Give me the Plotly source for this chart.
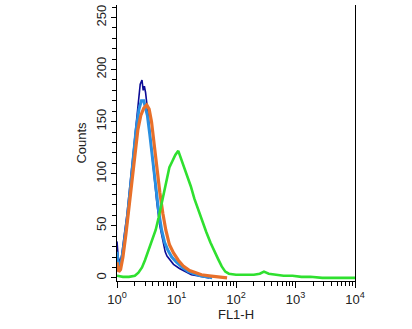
import plotly.graph_objects as go

# FL1-H fluorescence histograms (log10 of channel value, event counts)
navy_log = [0.00, 0.02, 0.05, 0.08, 0.12, 0.17, 0.22, 0.27, 0.32, 0.36, 0.39, 0.42, 0.44, 0.46, 0.48,
            0.52, 0.57, 0.62, 0.67, 0.72, 0.77, 0.81, 0.84, 0.90, 0.95, 1.05, 1.15, 1.25, 1.35, 1.45, 1.55]
navy_cnt = [35, 20, 15, 22, 40, 62, 90, 120, 150, 172, 186, 190, 180, 184, 178,
            158, 128, 98, 72, 50, 34, 25, 21, 16, 13, 9, 6, 3, 2, 1, 0]

sky_log = [0.00, 0.02, 0.05, 0.08, 0.12, 0.17, 0.22, 0.27, 0.32, 0.37, 0.41, 0.45, 0.48, 0.51,
           0.55, 0.60, 0.65, 0.70, 0.75, 0.80, 0.86, 0.92, 1.00, 1.10, 1.20, 1.30, 1.40, 1.50, 1.60]
sky_cnt = [25, 14, 10, 18, 34, 56, 84, 114, 142, 162, 170, 170, 164, 156,
           138, 112, 86, 64, 46, 34, 26, 20, 15, 10, 6, 4, 2, 1, 0]

orange_log = [0.00, 0.03, 0.06, 0.10, 0.15, 0.20, 0.25, 0.30, 0.35, 0.40, 0.45, 0.50, 0.54, 0.58,
              0.62, 0.67, 0.72, 0.77, 0.82, 0.88, 0.95, 1.03, 1.12, 1.22, 1.32, 1.42, 1.55, 1.70, 1.85]
orange_cnt = [15, 6, 8, 20, 42, 66, 94, 120, 142, 156, 163, 166, 162, 150,
              130, 106, 82, 62, 46, 32, 24, 17, 11, 7, 5, 3, 2, 1, 0]

green_log = [0.00, 0.10, 0.20, 0.30, 0.36, 0.42, 0.47, 0.53, 0.59, 0.65, 0.70, 0.76, 0.82, 0.88,
             0.93, 0.98, 1.03, 1.08, 1.13, 1.18, 1.24, 1.30, 1.36, 1.42, 1.50, 1.57, 1.63, 1.70,
             1.76, 1.82, 1.88, 2.00, 2.15, 2.30, 2.40, 2.47, 2.55, 2.65, 2.80, 2.95, 3.10, 3.25,
             3.45, 3.70, 4.00]
green_cnt = [2, 1, 1, 2, 5, 10, 17, 26, 36, 46, 58, 74, 92, 106,
             112, 118, 122, 114, 106, 99, 88, 76, 66, 56, 44, 34, 26, 18,
             11, 6, 4, 3, 3, 3, 4, 6, 4, 3, 2, 2, 1, 1,
             0, 0, 0]

series = [
    ("navy", navy_log, navy_cnt, "#0c0c96", 1.6),
    ("sky", sky_log, sky_cnt, "#2a8fe0", 3.0),
    ("orange", orange_log, orange_cnt, "#e8702a", 3.2),
    ("green", green_log, green_cnt, "#2fe02f", 2.6),
]

fig = go.Figure()
for name, lx, cnt, color, width in series:
    fig.add_trace(go.Scatter(
        x=[10 ** v for v in lx], y=cnt, mode="lines", name=name,
        line=dict(color=color, width=width), showlegend=False,
    ))

decades = [1, 10, 100, 1000, 10000]
minor_vals = [m * d for d in decades[:-1] for m in range(2, 10)]

font_family = "Liberation Sans, Arial, sans-serif"

fig.update_layout(
    width=412, height=329,
    margin=dict(l=117, r=57, t=5, b=48),
    paper_bgcolor="white", plot_bgcolor="white",
    font=dict(family=font_family, size=13, color="#222"),
    xaxis=dict(
        type="log", range=[0, 4], showgrid=False, zeroline=False,
        showline=True, linecolor="black", linewidth=1.2,
        ticks="outside", ticklen=6, tickwidth=1, tickcolor="black",
        tickvals=decades,
        ticktext=["10<sup>%d</sup>" % i for i in range(5)],
        tickfont=dict(size=13),
        minor=dict(tickvals=minor_vals, ticks="outside", ticklen=4,
                   tickcolor="black", tickwidth=1, showgrid=False),
        title=dict(text="FL1-H", font=dict(size=13), standoff=2),
    ),
    yaxis=dict(
        range=[-3, 262], showgrid=False, zeroline=False,
        showline=True, linecolor="black", linewidth=1.2, mirror=True,
        ticks="outside", ticklen=5, tickwidth=1, tickcolor="black",
        tickvals=[0, 50, 100, 150, 200, 250], tickangle=-90,
        tickfont=dict(size=13),
        minor=dict(dtick=10, ticks="outside", ticklen=4,
                   tickcolor="black", tickwidth=1, showgrid=False),
        title=dict(text="Counts", font=dict(size=13), standoff=4),
    ),
)

fig.write_html("out.html")
